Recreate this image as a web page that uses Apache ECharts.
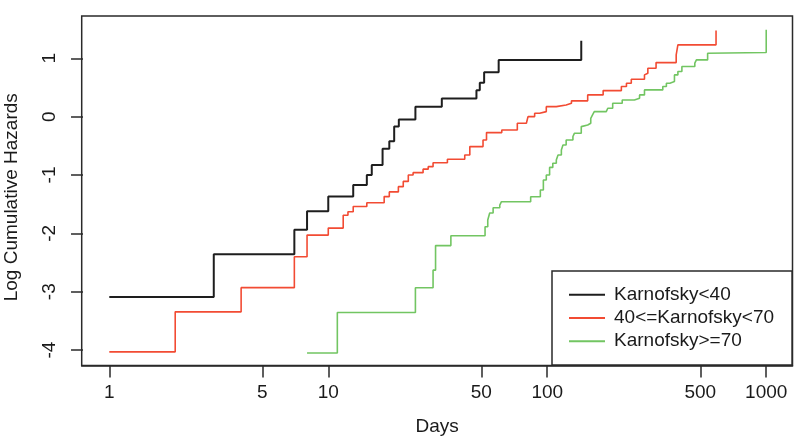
<!DOCTYPE html>
<html>
<head>
<meta charset="utf-8">
<script src="https://cdn.jsdelivr.net/npm/echarts@6/dist/echarts.min.js"></script>
<style>
html,body{margin:0;padding:0;background:#fff;}
#chart{width:800px;height:444px;}
</style>
</head>
<body>
<div id="chart"></div>
<script>
// Tick labels (days) and y ticks
const xTickDays = [1, 5, 10, 50, 100, 500, 1000];
const yTicks = [-4, -3, -2, -1, 0, 1];
const seriesNames = ['Karnofsky<40', '40<=Karnofsky<70', 'Karnofsky>=70'];

// Karnofsky<40
const daysLow = [1, 3, 7, 8, 10, 13, 15, 15.8, 17.7, 19, 20, 21, 25, 33, 47.5, 49.2, 51.5, 60, 143];
const hazLow = [-3.09, -2.36, -1.94, -1.62, -1.37, -1.17, -1.00, -0.83, -0.55, -0.42, -0.17, -0.05, 0.17, 0.31, 0.45, 0.58, 0.76, 0.97, 1.30];

// 40<=Karnofsky<70
const daysMid = [1, 2, 4, 7, 8, 10, 11.7, 12.3, 13, 15, 18, 19, 20.9, 22, 23.2, 24.4, 27.1, 28.6, 30.1, 35, 42, 44.3, 50.9, 52.8, 62, 73, 80.3, 81.7, 87.6, 92.3, 99, 110, 122, 129, 153, 180, 218, 230, 242, 278, 283, 288, 314, 388, 395, 590];
const hazMid = [-4.03, -3.345, -2.93, -2.40, -2.03, -1.91, -1.69, -1.63, -1.54, -1.475, -1.37, -1.29, -1.20, -1.11, -1.0, -0.96, -0.90, -0.857, -0.79, -0.73, -0.657, -0.514, -0.40, -0.274, -0.228, -0.114, -0.086, 0, 0.057, 0.086, 0.171, 0.20, 0.229, 0.27, 0.372, 0.446, 0.515, 0.572, 0.641, 0.715, 0.744, 0.83, 0.926, 1.058, 1.23, 1.475];

// Karnofsky>=70
const daysHigh = [8, 11, 25, 30.1, 30.9, 36.3, 52, 53.5, 54.6, 56.6, 60.7, 61.8, 84, 93, 96, 99, 102.5, 106, 110, 112, 116, 118, 122, 131, 133, 143, 146, 153, 158, 161, 164, 186, 189, 199, 220, 250, 264, 278, 337, 350, 363, 381, 395, 412, 472, 480, 540, 550, 1000];
const hazHigh = [-4.05, -3.356, -2.933, -2.63, -2.21, -2.04, -1.886, -1.77, -1.65, -1.56, -1.515, -1.458, -1.372, -1.257, -1.086, -1.0, -0.87, -0.80, -0.743, -0.657, -0.571, -0.486, -0.40, -0.34, -0.286, -0.171, -0.143, -0.114, -0.029, 0.029, 0.086, 0.115, 0.143, 0.229, 0.286, 0.315, 0.372, 0.458, 0.515, 0.572, 0.60, 0.715, 0.772, 0.858, 0.915, 0.972, 1.087, 1.098, 1.487];

const FONT = "'Liberation Sans', Arial, Helvetica, sans-serif";
// x axis runs in log10(days), padded by 0.12 decades on both sides
const X_PAD = 0.12;
const X_MIN = -0.006; // zero sits just inside the box so the y axis (onZero) draws its ticks
const toX = d => Math.log10(d) + X_PAD;
const toPairs = (d, h) => d.map((x, i) => [toX(x), h[i]]);
const colors = ['#1e1e1e', '#f24b33', '#72c562'];
const widths = [2, 1.6, 1.6];
const AX = '#2a2a2a';
const Y_MIN = -4.264, Y_MAX = 1.724;

const chart = echarts.init(document.getElementById('chart'), null, {renderer: 'canvas'});
const mk = (i, d, h) => ({
  name: seriesNames[i], type: 'line', step: 'end', symbol: 'none', showSymbol: false,
  data: toPairs(d, h), lineStyle: {color: colors[i], width: widths[i]}, itemStyle: {color: colors[i]},
  animation: false
});
chart.setOption({
  animation: false,
  backgroundColor: '#fff',
  grid: {left: 81.7, right: 7.5, top: 16, bottom: 78.5, show: true, borderColor: AX, borderWidth: 1.5, containLabel: false, outerBoundsMode: 'none'},
  xAxis: {
    type: 'value', position: 'bottom', min: X_MIN, max: 3 + 2 * X_PAD,
    axisLine: {show: true, onZero: false, lineStyle: {color: AX, width: 1.5}},
    splitLine: {show: false},
    axisTick: {show: true, length: 12, lineStyle: {color: AX, width: 1.5}, customValues: xTickDays.map(toX)},
    axisLabel: {customValues: xTickDays.map(toX), formatter: v => String(Math.round(Math.pow(10, v - X_PAD))), fontSize: 19, fontFamily: FONT, color: '#1a1a1a', margin: 18},
    name: 'Days', nameLocation: 'middle', nameGap: 52, nameTextStyle: {fontSize: 19, fontFamily: FONT, color: '#1a1a1a'}
  },
  yAxis: {
    type: 'value', position: 'left', min: Y_MIN, max: Y_MAX,
    axisLine: {show: false, onZero: true},
    splitLine: {show: false},
    axisTick: {show: true, length: 12, lineStyle: {color: AX, width: 1.5}, customValues: yTicks},
    axisLabel: {customValues: yTicks, rotate: 90, fontSize: 19, fontFamily: FONT, color: '#1a1a1a', margin: 22},
    name: 'Log Cumulative Hazards', nameLocation: 'middle', nameRotate: 90, nameGap: 60,
    nameTextStyle: {fontSize: 19, fontFamily: FONT, color: '#1a1a1a', padding: [0, 13, 0, 0]}
  },
  legend: {
    show: true, orient: 'vertical', left: 552, top: 271,
    padding: [12, 18, 12, 17], itemGap: 0, itemWidth: 36, itemHeight: 2, icon: 'rect',
    backgroundColor: '#fff', borderColor: AX, borderWidth: 1.5,
    textStyle: {fontSize: 19, fontFamily: FONT, color: '#1a1a1a', lineHeight: 23.3, padding: [0, 0, 0, 4]},
    data: seriesNames.map(n => ({name: n}))
  },
  series: [
    mk(0, daysLow, hazLow),
    mk(1, daysMid, hazMid),
    mk(2, daysHigh, hazHigh)
  ]
});
</script>
</body>
</html>
